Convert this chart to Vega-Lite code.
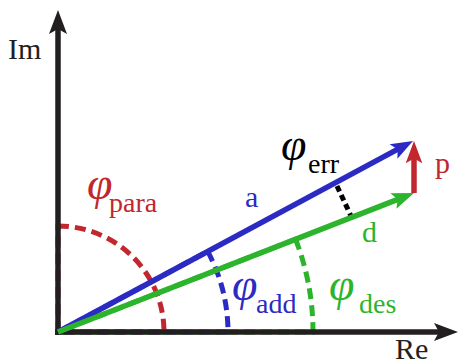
{
  "$schema": "https://vega.github.io/schema/vega-lite/v6.json",
  "width": 459,
  "height": 364,
  "padding": 0,
  "autosize": {"type": "none"},
  "config": {"view": {"stroke": null}, "text": {"font": "Liberation Serif"}},
  "datasets": {
    "vectors": [
      {"name": "Im", "x": 0, "y": -3, "x2": 0, "y2": 322},
      {"name": "Re", "x": -3, "y": 0, "x2": 400, "y2": 0},
      {"name": "a", "x": 0, "y": 0, "x2": 355, "y2": 191},
      {"name": "d", "x": 0, "y": 0, "x2": 356, "y2": 139},
      {"name": "p", "x": 356, "y": 139, "x2": 356, "y2": 191}
    ],
    "err": [{"name": "err", "x": 279, "y": 146, "x2": 293, "y2": 116}],
    "arcs": [
      {"name": "para", "x": 0, "y": 0, "r": 106, "t0": 0, "t1": 1.5708},
      {"name": "add", "x": 0, "y": 0, "r": 170, "t0": 1.0769, "t1": 1.5708},
      {"name": "des", "x": 0, "y": 0, "r": 255, "t0": 1.1985, "t1": 1.5708}
    ],
    "labels": [
      {"name": "Im", "text": "Im", "x": -50, "y": 273},
      {"name": "Re", "text": "Re", "x": 337, "y": -27},
      {"name": "a", "text": "a", "x": 187, "y": 125},
      {"name": "p", "text": "p", "x": 377, "y": 159},
      {"name": "d", "text": "d", "x": 304, "y": 90}
    ],
    "symbols": [
      {"name": "para", "text": "φ", "x": 29, "y": 133},
      {"name": "err", "text": "φ", "x": 223, "y": 172},
      {"name": "add", "text": "φ", "x": 174, "y": 32},
      {"name": "des", "text": "φ", "x": 271, "y": 32}
    ],
    "subs": [
      {"name": "para", "text": "para", "x": 51, "y": 120},
      {"name": "err", "text": "err", "x": 250, "y": 159},
      {"name": "add", "text": "add", "x": 198, "y": 19},
      {"name": "des", "text": "des", "x": 301, "y": 19}
    ]
  },
  "layer": [
    {
      "data": {"name": "arcs"},
      "mark": {"type": "arc", "filled": false, "strokeWidth": 5, "strokeDash": [11, 6]},
      "encoding": {
        "x": {"field": "x", "type": "quantitative", "scale": {"domain": [-58, 401], "nice": false, "zero": false}, "axis": null},
        "y": {"field": "y", "type": "quantitative", "scale": {"domain": [-32, 332], "nice": false, "zero": false}, "axis": null},
        "theta": {"field": "t0", "type": "quantitative", "scale": null, "stack": false},
        "theta2": {"field": "t1"},
        "radius": {"field": "r", "type": "quantitative", "scale": null},
        "color": {"field": "name", "type": "nominal", "legend": null,
          "scale": {"domain": ["Im", "Re", "a", "d", "p", "err", "para", "add", "des"],
                    "range": ["#231f20", "#231f20", "#2b2bc4", "#2cb52c", "#c1272d", "#000000", "#c1272d", "#2b2bc4", "#2cb52c"]}}
      }
    },
    {
      "data": {"name": "err"},
      "mark": {"type": "rule", "strokeWidth": 5, "strokeDash": [6, 4]},
      "encoding": {
        "x": {"field": "x", "type": "quantitative", "scale": {"domain": [-58, 401], "nice": false, "zero": false}, "axis": null},
        "y": {"field": "y", "type": "quantitative", "scale": {"domain": [-32, 332], "nice": false, "zero": false}, "axis": null},
        "x2": {"field": "x2"},
        "y2": {"field": "y2"},
        "color": {"field": "name", "type": "nominal", "legend": null}
      }
    },
    {
      "data": {"name": "vectors"},
      "transform": [
        {"calculate": "sqrt(pow(datum.x2 - datum.x, 2) + pow(datum.y2 - datum.y, 2))", "as": "len"},
        {"calculate": "datum.x2 - (datum.x2 - datum.x) / datum.len * 14", "as": "ex"},
        {"calculate": "datum.y2 - (datum.y2 - datum.y) / datum.len * 14", "as": "ey"}
      ],
      "mark": {"type": "rule"},
      "encoding": {
        "x": {"field": "x", "type": "quantitative", "scale": {"domain": [-58, 401], "nice": false, "zero": false}, "axis": null},
        "y": {"field": "y", "type": "quantitative", "scale": {"domain": [-32, 332], "nice": false, "zero": false}, "axis": null},
        "x2": {"field": "ex"},
        "y2": {"field": "ey"},
        "color": {"field": "name", "type": "nominal", "legend": null},
        "strokeWidth": {"field": "name", "type": "nominal", "legend": null,
          "scale": {"domain": ["Im", "Re", "a", "d", "p"], "range": [5.5, 5.5, 6, 5, 5]}}
      }
    },
    {
      "data": {"name": "vectors"},
      "transform": [
        {"calculate": "90 - atan2(datum.y2 - datum.y, datum.x2 - datum.x) * 180 / PI", "as": "ang"},
        {"filter": "datum.name == 'Im' || datum.name == 'Re'"}
      ],
      "mark": {"type": "point", "shape": "M0,0L0.9,2.4L0,1.9L-0.9,2.4Z", "filled": true, "size": 400, "opacity": 1, "strokeWidth": 0},
      "encoding": {
        "x": {"field": "x2", "type": "quantitative", "scale": {"domain": [-58, 401], "nice": false, "zero": false}, "axis": null},
        "y": {"field": "y2", "type": "quantitative", "scale": {"domain": [-32, 332], "nice": false, "zero": false}, "axis": null},
        "angle": {"field": "ang", "type": "quantitative", "scale": null},
        "color": {"field": "name", "type": "nominal", "legend": null}
      }
    },
    {
      "data": {"name": "vectors"},
      "transform": [
        {"calculate": "90 - atan2(datum.y2 - datum.y, datum.x2 - datum.x) * 180 / PI", "as": "ang"},
        {"filter": "datum.name != 'Im' && datum.name != 'Re'"}
      ],
      "mark": {"type": "point", "shape": "M0,0L0.9,2.4L0,1.9L-0.9,2.4Z", "filled": true, "size": 340, "opacity": 1, "strokeWidth": 0},
      "encoding": {
        "x": {"field": "x2", "type": "quantitative", "scale": {"domain": [-58, 401], "nice": false, "zero": false}, "axis": null},
        "y": {"field": "y2", "type": "quantitative", "scale": {"domain": [-32, 332], "nice": false, "zero": false}, "axis": null},
        "angle": {"field": "ang", "type": "quantitative", "scale": null},
        "color": {"field": "name", "type": "nominal", "legend": null}
      }
    },
    {
      "data": {"name": "labels"},
      "mark": {"type": "text", "align": "left", "baseline": "alphabetic", "fontSize": 30, "font": "Liberation Serif"},
      "encoding": {
        "x": {"field": "x", "type": "quantitative", "scale": {"domain": [-58, 401], "nice": false, "zero": false}, "axis": null},
        "y": {"field": "y", "type": "quantitative", "scale": {"domain": [-32, 332], "nice": false, "zero": false}, "axis": null},
        "text": {"field": "text"},
        "color": {"field": "name", "type": "nominal", "legend": null}
      }
    },
    {
      "data": {"name": "symbols"},
      "mark": {"type": "text", "align": "left", "baseline": "alphabetic", "fontSize": 46, "fontStyle": "italic", "font": "Liberation Serif"},
      "encoding": {
        "x": {"field": "x", "type": "quantitative", "scale": {"domain": [-58, 401], "nice": false, "zero": false}, "axis": null},
        "y": {"field": "y", "type": "quantitative", "scale": {"domain": [-32, 332], "nice": false, "zero": false}, "axis": null},
        "text": {"field": "text"},
        "color": {"field": "name", "type": "nominal", "legend": null}
      }
    },
    {
      "data": {"name": "subs"},
      "mark": {"type": "text", "align": "left", "baseline": "alphabetic", "fontSize": 28, "font": "Liberation Serif"},
      "encoding": {
        "x": {"field": "x", "type": "quantitative", "scale": {"domain": [-58, 401], "nice": false, "zero": false}, "axis": null},
        "y": {"field": "y", "type": "quantitative", "scale": {"domain": [-32, 332], "nice": false, "zero": false}, "axis": null},
        "text": {"field": "text"},
        "color": {"field": "name", "type": "nominal", "legend": null}
      }
    }
  ]
}
